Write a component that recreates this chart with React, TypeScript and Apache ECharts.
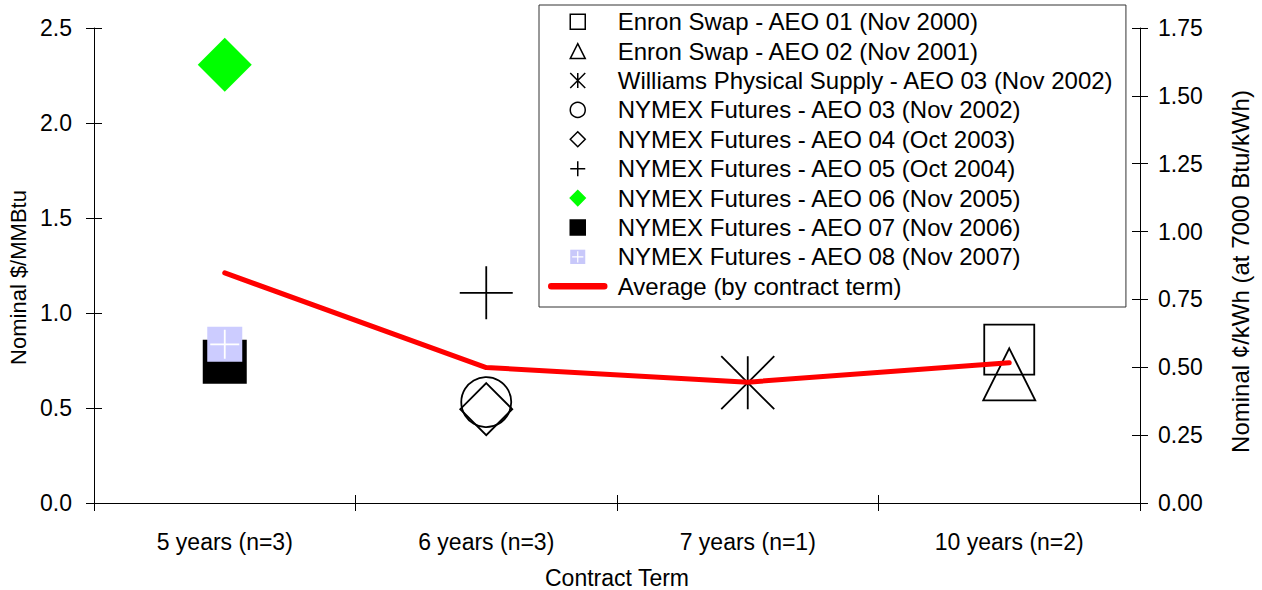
import React, { useEffect, useRef } from 'react';
import * as echarts from 'echarts';

const categories = ['5 years (n=3)', '6 years (n=3)', '7 years (n=1)', '10 years (n=2)'];

const seriesNames = [
  'Enron Swap - AEO 01 (Nov 2000)',
  'Enron Swap - AEO 02 (Nov 2001)',
  'Williams Physical Supply - AEO 03 (Nov 2002)',
  'NYMEX Futures - AEO 03 (Nov 2002)',
  'NYMEX Futures - AEO 04 (Oct 2003)',
  'NYMEX Futures - AEO 05 (Oct 2004)',
  'NYMEX Futures - AEO 06 (Nov 2005)',
  'NYMEX Futures - AEO 07 (Nov 2006)',
  'NYMEX Futures - AEO 08 (Nov 2007)',
  'Average (by contract term)',
];

// $/MMBtu values by contract term (null = no contract for that term)
const enronAeo01 = [null, null, null, 0.807];
const enronAeo02 = [null, null, null, 0.677];
const williamsAeo03 = [null, null, 0.633, null];
const nymexAeo03 = [null, 0.531, null, null];
const nymexAeo04 = [null, 0.494, null, null];
const nymexAeo05 = [null, 1.106, null, null];
const nymexAeo06 = [2.307, null, null, null];
const nymexAeo07 = [0.744, null, null, null];
const nymexAeo08 = [0.835, null, null, null];
const averageByTerm = [1.211, 0.713, 0.636, 0.738];

const FONT = '"Liberation Sans", Arial, sans-serif';
const SQUARE = 'path://M0,0L10,0L10,10L0,10Z';
const TRIANGLE = 'path://M5,0L10,10L0,10Z';
const DIAMOND = 'path://M5,0L10,5L5,10L0,5Z';
const ASTERISK = 'path://M0,0L10,10M10,0L0,10M5,0L5,10';
const PLUS = 'path://M0,5L10,5M5,0L5,10';
const LINE_ICON = 'path://M2.5,0L55.5,0A2.5,2.5,0,0,1,55.5,5L2.5,5A2.5,2.5,0,0,1,2.5,0Z';
const PLUS_SQUARE_SVG =
  '<svg xmlns="http://www.w3.org/2000/svg" width="16" height="16" viewBox="0 0 16 16">' +
  '<rect width="16" height="16" fill="#C8C8FA"/>' +
  '<path d="M8 2V14M2 8H14" stroke="#ffffff" stroke-width="1.3"/></svg>';
const PLUS_SQUARE_ICON = 'image://data:image/svg+xml;charset=utf-8,' + encodeURIComponent(PLUS_SQUARE_SVG);

const hollow = { color: 'rgba(0,0,0,0)', borderColor: '#000', borderWidth: 1.8, opacity: 1 };

export default function App() {
  const ref = useRef<HTMLDivElement>(null);

  useEffect(() => {
    if (!ref.current) return;
    const chart = echarts.init(ref.current, null, { renderer: 'svg' });

    const tickStyle = { color: '#000', width: 1 };
    const labelStyle = { color: '#000', fontSize: 23, fontFamily: FONT };

    const option: any = {
      animation: false,
      backgroundColor: '#fff',
      textStyle: { fontFamily: FONT },
      grid: { left: 94, right: 122, top: 28, bottom: 87, containLabel: false, outerBoundsMode: 'none' },
      legend: {
        orient: 'vertical',
        left: 539,
        top: 5,
        padding: [2, 12, 6, 9],
        itemWidth: 58,
        itemHeight: 15,
        itemGap: 0,
        borderColor: '#333',
        borderWidth: 1,
        backgroundColor: '#fff',
        selectedMode: false,
        textStyle: { fontSize: 24, color: '#000', fontFamily: FONT, lineHeight: 29.4, padding: [0, 0, 0, 6] },
        itemStyle: { borderWidth: 1.5 },
        data: [
          { name: seriesNames[0], icon: SQUARE },
          { name: seriesNames[1], icon: TRIANGLE },
          { name: seriesNames[2], icon: ASTERISK },
          { name: seriesNames[3], icon: 'circle' },
          { name: seriesNames[4], icon: DIAMOND },
          { name: seriesNames[5], icon: PLUS },
          { name: seriesNames[6], icon: DIAMOND },
          { name: seriesNames[7], icon: SQUARE },
          { name: seriesNames[8], icon: PLUS_SQUARE_ICON },
          { name: seriesNames[9], icon: LINE_ICON },
        ],
      },
      xAxis: [
        {
          type: 'category',
          data: categories,
          position: 'bottom',
          boundaryGap: true,
          axisLine: { show: true, onZero: false, lineStyle: tickStyle },
          axisTick: { show: true, inside: false, length: 8, interval: 0, alignWithLabel: false, lineStyle: tickStyle },
          axisLabel: { ...labelStyle, margin: 27, interval: 0 },
          splitLine: { show: false },
          name: 'Contract Term',
          nameLocation: 'middle',
          nameGap: 63,
          nameTextStyle: labelStyle,
        },
        {
          type: 'category',
          data: categories,
          position: 'bottom',
          boundaryGap: true,
          axisLine: { show: false, onZero: false },
          axisTick: { show: true, inside: true, length: 8, interval: 0, lineStyle: tickStyle },
          axisLabel: { show: false },
          splitLine: { show: false },
        },
      ],
      yAxis: [
        {
          type: 'value',
          position: 'left',
          min: 0,
          max: 2.5,
          interval: 0.5,
          axisLine: { show: true, onZero: false, lineStyle: tickStyle },
          axisTick: { show: true, inside: false, length: 8, lineStyle: tickStyle },
          axisLabel: { ...labelStyle, margin: 22, formatter: (v: number) => v.toFixed(1) },
          splitLine: { show: false },
          name: 'Nominal $/MMBtu',
          nameLocation: 'middle',
          nameGap: 65,
          nameTextStyle: { ...labelStyle, fontSize: 22, padding: [0, 24, 0, 0] },
        },
        {
          type: 'value',
          position: 'left',
          min: 0,
          max: 2.5,
          interval: 0.5,
          axisLine: { show: false, onZero: false },
          axisTick: { show: true, inside: true, length: 8, lineStyle: tickStyle },
          axisLabel: { show: false },
          splitLine: { show: false },
        },
        {
          type: 'value',
          position: 'right',
          min: 0,
          max: 1.75,
          interval: 0.25,
          axisLine: { show: true, onZero: false, lineStyle: tickStyle },
          axisTick: { show: true, inside: false, length: 8, lineStyle: tickStyle },
          axisLabel: { ...labelStyle, margin: 18, formatter: (v: number) => v.toFixed(2) },
          splitLine: { show: false },
          name: 'Nominal ¢/kWh (at 7000 Btu/kWh)',
          nameLocation: 'middle',
          nameGap: 88,
          nameTextStyle: { ...labelStyle, fontSize: 24, padding: [0, 12, 0, 0] },
        },
        {
          type: 'value',
          position: 'right',
          min: 0,
          max: 1.75,
          interval: 0.25,
          axisLine: { show: false, onZero: false },
          axisTick: { show: true, inside: true, length: 8, lineStyle: tickStyle },
          axisLabel: { show: false },
          splitLine: { show: false },
        },
      ],
      series: [
        { name: seriesNames[0], type: 'scatter', data: enronAeo01, symbol: 'rect', symbolSize: 50, itemStyle: hollow, z: 3 },
        { name: seriesNames[1], type: 'scatter', data: enronAeo02, symbol: 'triangle', symbolSize: 52, itemStyle: hollow, z: 3 },
        { name: seriesNames[2], type: 'scatter', data: williamsAeo03, symbol: ASTERISK, symbolSize: 53, itemStyle: hollow, z: 3 },
        { name: seriesNames[3], type: 'scatter', data: nymexAeo03, symbol: 'circle', symbolSize: 50, itemStyle: hollow, z: 3 },
        { name: seriesNames[4], type: 'scatter', data: nymexAeo04, symbol: 'diamond', symbolSize: 52, itemStyle: hollow, z: 3 },
        { name: seriesNames[5], type: 'scatter', data: nymexAeo05, symbol: PLUS, symbolSize: 53, itemStyle: hollow, z: 3 },
        {
          name: seriesNames[6], type: 'scatter', data: nymexAeo06, symbol: 'diamond', symbolSize: 54,
          itemStyle: { color: '#00FF00', borderColor: '#00FF00', borderWidth: 0, opacity: 1 }, z: 3,
        },
        {
          name: seriesNames[7], type: 'scatter', data: nymexAeo07, symbol: 'rect', symbolSize: 44,
          itemStyle: { color: '#000', borderColor: '#000', borderWidth: 0, opacity: 1 }, z: 3,
        },
        {
          name: seriesNames[8], type: 'scatter', data: nymexAeo08, symbol: 'rect', symbolSize: 35,
          itemStyle: { color: '#CCCCFF', borderColor: '#CCCCFF', borderWidth: 0, opacity: 1 }, z: 4,
        },
        {
          name: 'AEO 08 cross', type: 'scatter', data: nymexAeo08, symbol: PLUS, symbolSize: 29,
          itemStyle: { color: 'rgba(0,0,0,0)', borderColor: '#fff', borderWidth: 1.8, opacity: 1 }, z: 5,
        },
        {
          name: seriesNames[9], type: 'line', data: averageByTerm, symbol: 'none',
          lineStyle: { color: '#FF0000', width: 5, cap: 'round', join: 'round' },
          itemStyle: { color: '#FF0000', borderColor: '#FF0000' }, z: 6,
        },
      ],
    };

    chart.setOption(option);
    return () => chart.dispose();
  }, []);

  return (
    <div
      ref={ref}
      style={{ position: 'absolute', left: 0, top: 0, width: 1262, height: 590, background: '#fff' }}
    />
  );
}
